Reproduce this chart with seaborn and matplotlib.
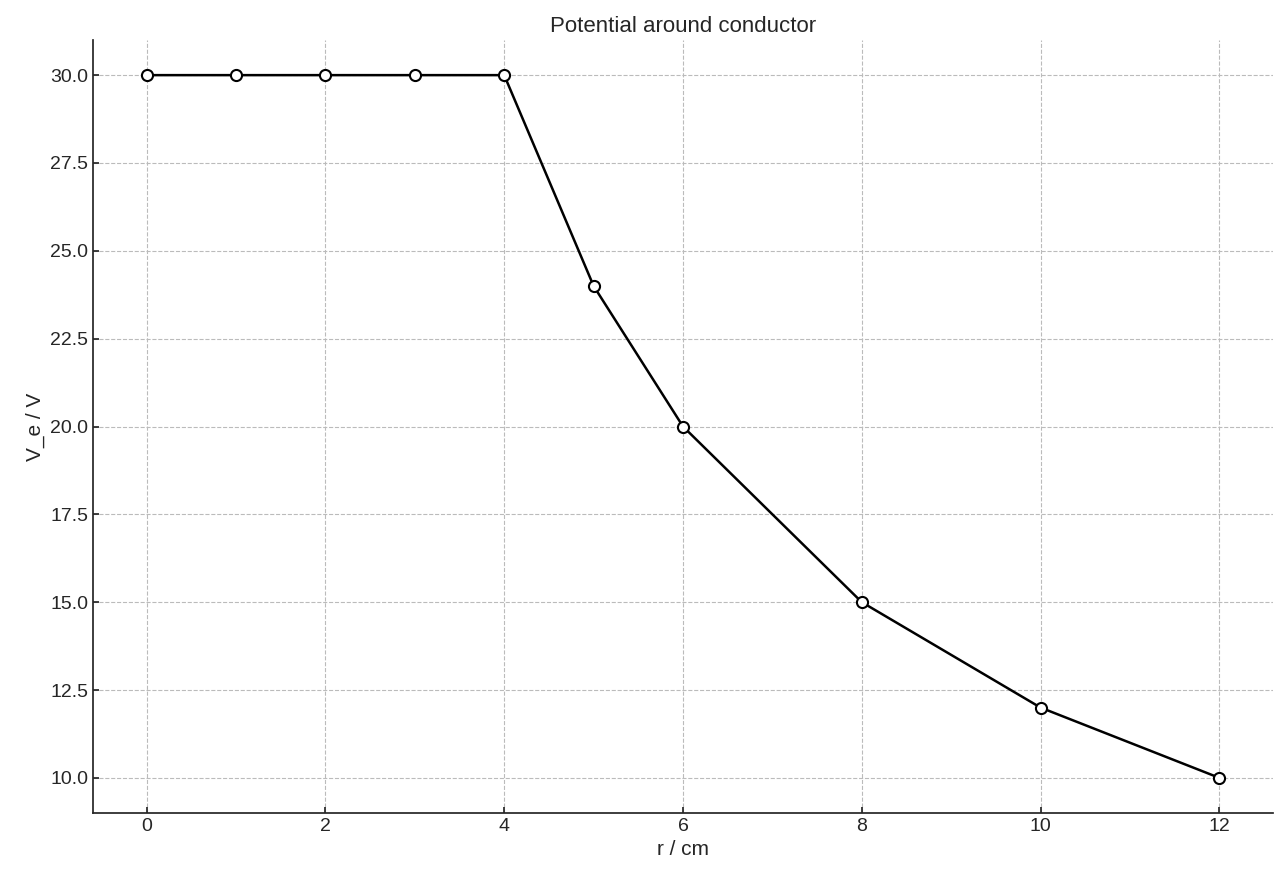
import matplotlib
matplotlib.use("Agg")
import matplotlib.pyplot as plt
import seaborn as sns
import pandas as pd

r_cm = [0, 1, 2, 3, 4, 5, 6, 8, 10, 12]
v_e = [30, 30, 30, 30, 30, 24, 20, 15, 12, 10]

sns.set_theme(style="ticks")
plt.rcParams['font.family'] = ['Liberation Sans', 'DejaVu Sans']

df = pd.DataFrame({"r": r_cm, "V": v_e})
fig = plt.figure(figsize=(12.8, 8.8), dpi=100)
ax = fig.add_axes([93/1280, 1 - 813/880, (1273-93)/1280, (813-40)/880])
sns.lineplot(data=df, x="r", y="V", ax=ax, color="black", linewidth=1.8,
             marker="o", markersize=8, markerfacecolor="white",
             markeredgecolor="black", markeredgewidth=1.5)
ax.grid(True, linestyle="--", color="#bbbbbb", linewidth=0.8)
ax.set_axisbelow(True)
sns.despine(ax=ax)
ax.tick_params(direction="in", labelsize=14, length=4)
ax.set_xticks([0, 2, 4, 6, 8, 10, 12])
ax.set_yticks([10, 12.5, 15, 17.5, 20, 22.5, 25, 27.5, 30])
ax.set_ylim(9, 31)
ax.set_xlim(-0.6, 12.6)
ax.set_xlabel("r / cm", fontsize=15)
ax.set_ylabel("V_e / V", fontsize=15)
ax.set_title("Potential around conductor", fontsize=16)
fig.savefig("out.png", dpi=100)
